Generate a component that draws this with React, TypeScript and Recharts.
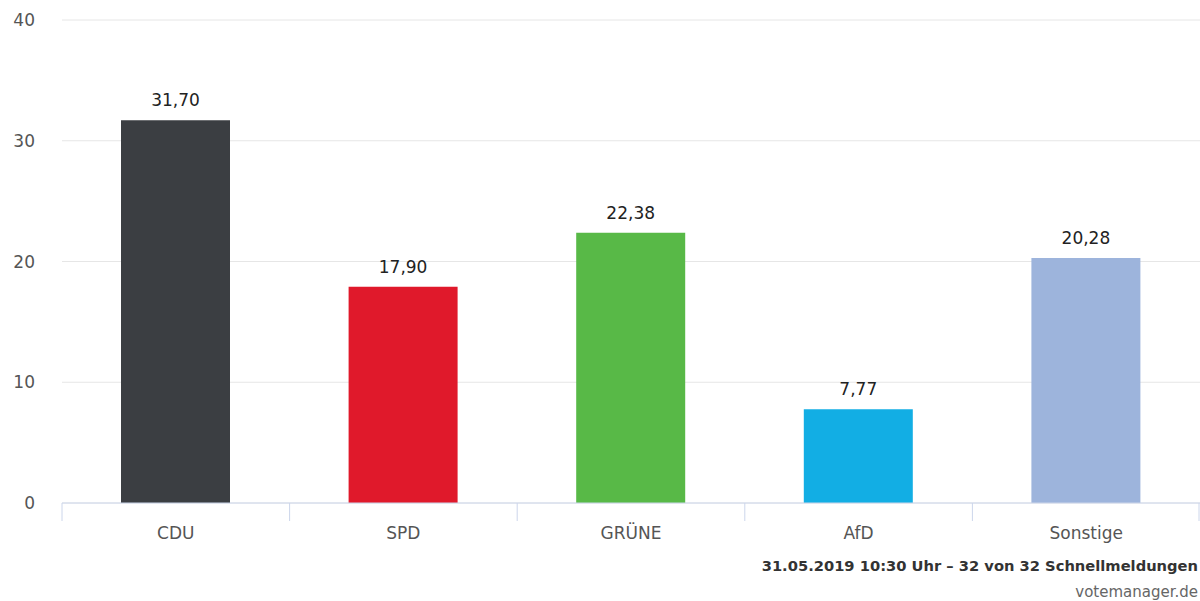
import { BarChart, Bar, XAxis, YAxis, CartesianGrid, LabelList, Cell } from 'recharts'

const parties = ['CDU', 'SPD', 'GRÜNE', 'AfD', 'Sonstige']
const shares = [31.7, 17.9, 22.38, 7.77, 20.28]
const partyColors = ['#3b3e42', '#e0192b', '#58b947', '#12aee4', '#9db4dc']
const yTicks = [0, 10, 20, 30, 40]

const CHART_W = 1200
const CHART_H = 601
const Y_AXIS_W = 62
const FONT = "'DejaVu Sans', Verdana, sans-serif"

const chartData = parties.map((name, i) => ({ name, value: shares[i] }))

function formatShare(v: number) {
  return v.toFixed(2).replace('.', ',')
}

// highcharts-style category ticks: a line on each category boundary, label in the middle
function CategoryTick(props: any) {
  const { x, y, payload, index, visibleTicksCount } = props
  const band = (CHART_W - Y_AXIS_W) / parties.length
  const isLast = index === visibleTicksCount - 1
  return (
    <g>
      <line x1={x - band / 2} x2={x - band / 2} y1={y - 8} y2={y + 10} stroke="#ccd6eb" />
      {isLast && <line x1={x + band / 2 - 1} x2={x + band / 2 - 1} y1={y - 8} y2={y + 10} stroke="#ccd6eb" />}
      <text x={x} y={y + 28} textAnchor="middle" fontSize={17} fill="#555" fontFamily={FONT}>
        {payload.value}
      </text>
    </g>
  )
}

export default function App() {
  return (
    <div
      style={{
        position: 'absolute',
        left: 0,
        top: 0,
        width: CHART_W,
        height: CHART_H,
        overflow: 'hidden',
        background: '#fff',
        fontFamily: FONT,
      }}
    >
      <BarChart
        width={CHART_W}
        height={CHART_H}
        data={chartData}
        margin={{ top: 20, right: 0, left: 0, bottom: 38 }}
      >
        <CartesianGrid stroke="#e6e6e6" vertical={false} />
        <XAxis
          dataKey="name"
          height={60}
          axisLine={{ stroke: '#ccd6eb' }}
          tickLine={false}
          tick={<CategoryTick />}
          interval={0}
        />
        <YAxis
          width={Y_AXIS_W}
          domain={[0, 40]}
          ticks={yTicks}
          axisLine={false}
          tickLine={false}
          tickMargin={21}
          tick={{ fontSize: 17, fill: '#555', fontFamily: FONT }}
        />
        <Bar dataKey="value" barSize={109} isAnimationActive={false}>
          {chartData.map((d, i) => (
            <Cell key={d.name} fill={partyColors[i]} />
          ))}
          <LabelList
            dataKey="value"
            position="top"
            offset={14}
            formatter={(v: any) => formatShare(Number(v))}
            style={{ fontSize: 17, fill: '#222', fontFamily: FONT }}
          />
        </Bar>
      </BarChart>
      <div
        style={{
          position: 'absolute',
          right: 2,
          top: 557,
          whiteSpace: 'nowrap',
          fontSize: 14.7,
          fontWeight: 'bold',
          color: '#333',
        }}
      >
        31.05.2019 10:30 Uhr – 32 von 32 Schnellmeldungen
      </div>
      <div
        style={{
          position: 'absolute',
          right: 2,
          top: 583,
          whiteSpace: 'nowrap',
          fontSize: 15,
          color: '#666',
        }}
      >
        votemanager.de
      </div>
    </div>
  )
}
